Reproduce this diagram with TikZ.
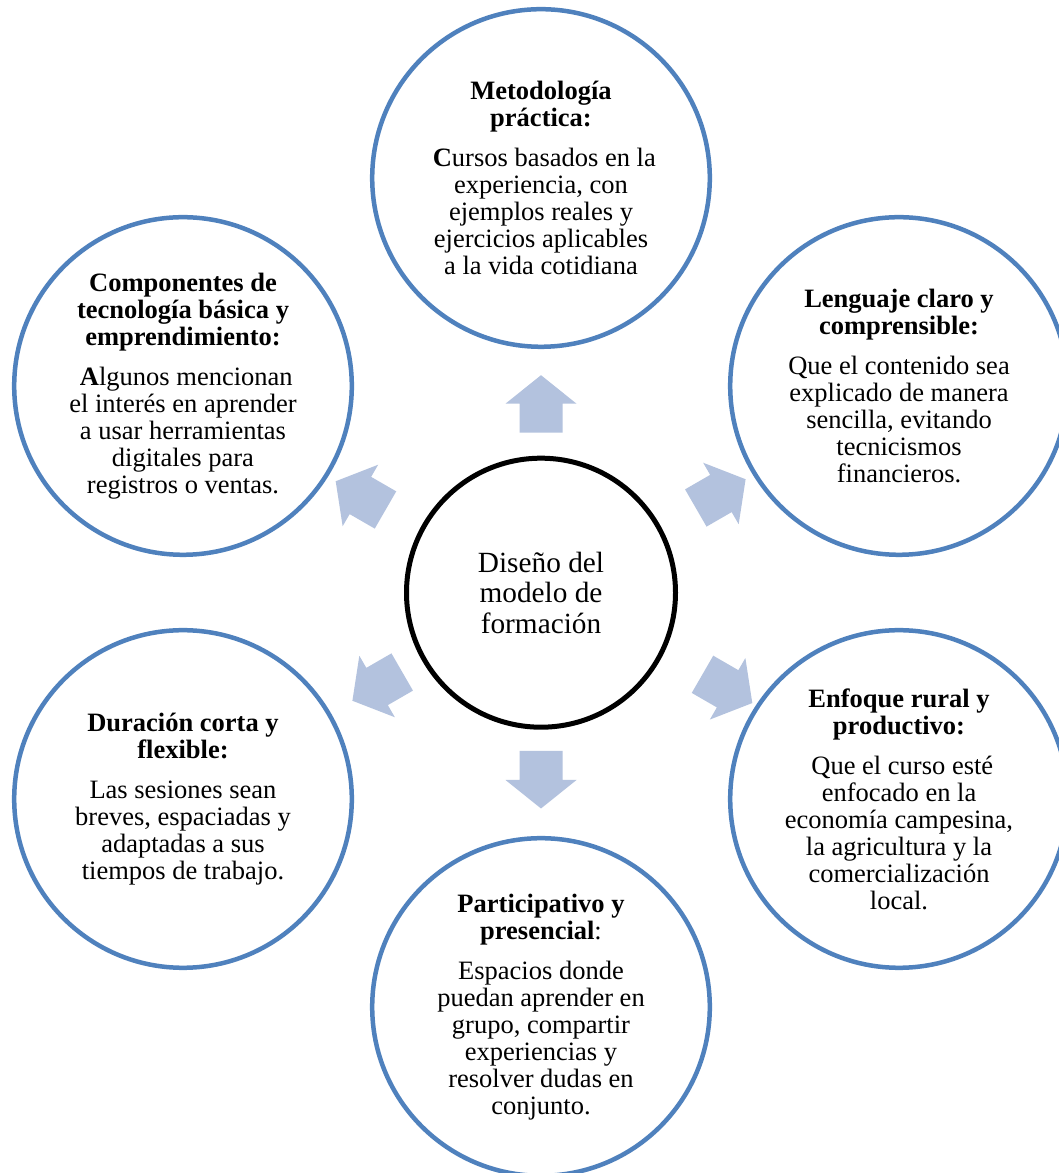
\documentclass[tikz,border=0pt]{standalone}
\usepackage{fontspec}
\setmainfont{Liberation Serif}
\usetikzlibrary{calc}
\definecolor{ringblue}{RGB}{79,129,189}
\definecolor{arrowblue}{RGB}{179,194,222}
\begin{document}
\begin{tikzpicture}[x=1pt,y=1pt,
  outer/.style={circle, draw=ringblue, line width=4.5pt, minimum size=337.6pt, inner sep=0pt, align=center, font=\fontsize{26.5}{27}\selectfont},
  hub/.style={circle, draw=black, line width=5pt, minimum size=269pt, inner sep=0pt, align=center, font=\fontsize{29.3}{30.5}\selectfont},
  bigarrow/.pic={\fill[arrowblue] (0,-21.5) -- (29,-21.5) -- (29,-35.5) -- (57.5,0) -- (29,35.5) -- (29,21.5) -- (0,21.5) -- cycle;}]
\useasboundingbox (0,0) rectangle (1059,1173);
\clip (0,0) rectangle (1059,1173);
\fill[white] (0,0) rectangle (1059,1173);

\node[hub] (c) at (541,580.3) {Diseño del\\modelo de\\formación};

\node[outer] (top) at (541,995) {\textbf{Metodología}\\\textbf{práctica:}\\[13pt]\hspace*{.25em}\textbf{C}ursos basados en la\\experiencia, con\\ejemplos reales y\\ejercicios aplicables\\a la vida cotidiana};

\node[outer] (ul) at (183,787) {\textbf{Componentes de}\\\textbf{tecnología básica y}\\\textbf{emprendimiento:}\\[13pt]\hspace*{.25em}\textbf{A}lgunos mencionan\\el interés en aprender\\a usar herramientas\\digitales para\\registros o ventas.};

\node[outer] (ur) at (899,787) {\textbf{Lenguaje claro y}\\\textbf{comprensible:}\\[13pt]Que el contenido sea\\explicado de manera\\sencilla, evitando\\tecnicismos\\financieros.};

\node[outer] (ll) at (183,374) {\textbf{Duración corta y}\\\textbf{flexible:}\\[13pt]Las sesiones sean\\breves, espaciadas y\\adaptadas a sus\\tiempos de trabajo.};

\node[outer] (lr) at (899,374) {\textbf{Enfoque rural y}\\\textbf{productivo:}\\[13pt]\hspace*{.25em}Que el curso esté\\enfocado en la\\economía campesina,\\la agricultura y la\\comercialización\\local.};

\node[outer] (bot) at (541,166) {\textbf{Participativo y}\\\textbf{presencial}:\\[13pt]Espacios donde\\puedan aprender en\\grupo, compartir\\experiencias y\\resolver dudas en\\conjunto.};

\pic[rotate=90] at ($(c.center)+(0,160)$) {bigarrow};
\pic[rotate=-90] at ($(c.center)+(0,-158.3)$) {bigarrow};
\pic[rotate=30] at ($(c.center)+(154.8,84.7)$) {bigarrow};
\pic[rotate=150] at ($(c.center)+(-155.5,82.7)$) {bigarrow};
\pic[rotate=-150] at ($(c.center)+(-138.8,-79.3)$) {bigarrow};
\pic[rotate=-30] at ($(c.center)+(161.5,-81.6)$) {bigarrow};
\end{tikzpicture}
\end{document}
